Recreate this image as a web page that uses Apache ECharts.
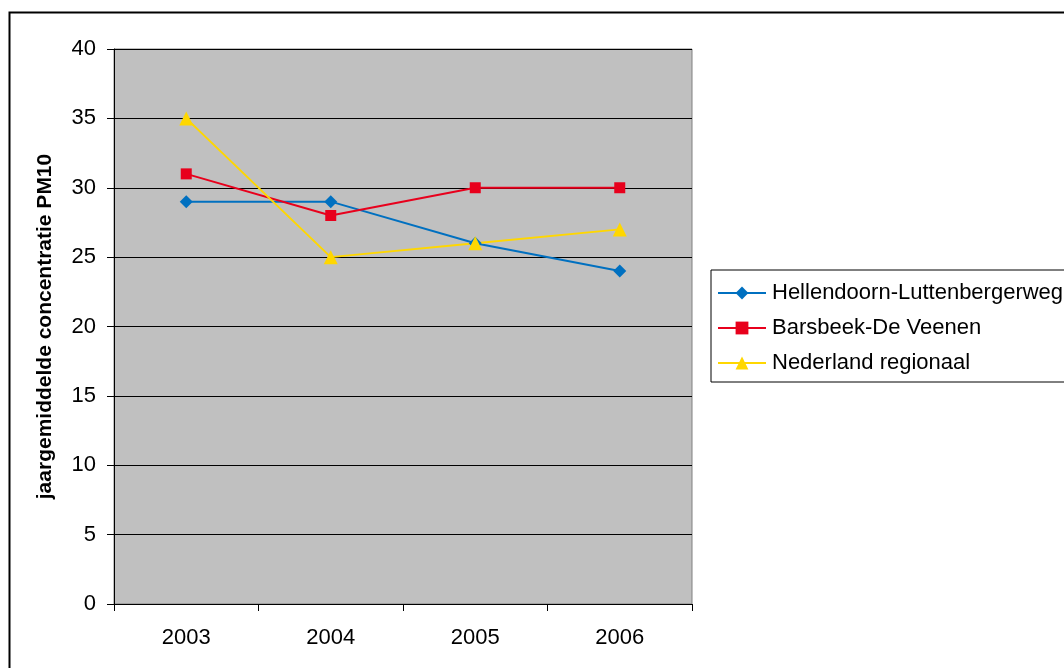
<!DOCTYPE html>
<html>
<head>
<meta charset="utf-8">
<script src="https://cdn.jsdelivr.net/npm/echarts@6/dist/echarts.min.js"></script>
<style>
  html, body { margin: 0; padding: 0; background: #ffffff; }
  #chart { width: 1064px; height: 668px; }
</style>
</head>
<body>
<div id="chart"></div>
<script>
// Jaargemiddelde PM10-concentratie per meetpunt
const years = ['2003', '2004', '2005', '2006'];
const hellendoorn = [29, 29, 26, 24];
const barsbeek = [31, 28, 30, 30];
const nederland = [35, 25, 26, 27];
const yTicks = { min: 0, max: 40, interval: 5 };

const font = 'Liberation Sans, Arial, sans-serif';

const chart = echarts.init(document.getElementById('chart'));

function lineSeries(name, data, color, symbol, size) {
  return {
    name: name,
    type: 'line',
    data: data,
    symbol: symbol,
    symbolSize: size,
    lineStyle: { color: color, width: 2 },
    itemStyle: { color: color },
    emphasis: { disabled: true },
    animation: false
  };
}

chart.setOption({
  animation: false,
  backgroundColor: '#ffffff',
  graphic: [{
    type: 'rect',
    shape: { x: 9.5, y: 12.5, width: 1100, height: 700 },
    style: { fill: 'none', stroke: '#000000', lineWidth: 2 },
    silent: true
  }],
  grid: {
    left: 114, top: 49, width: 578, height: 555,
    show: true,
    backgroundColor: '#C0C0C0',
    borderColor: '#808080',
    borderWidth: 1
  },
  legend: {
    left: 711, top: 270,
    orient: 'vertical',
    itemWidth: 48,
    itemHeight: 16,
    itemGap: 13,
    padding: [12, 200, 8, 6],
    borderColor: '#000000',
    borderWidth: 1,
    backgroundColor: '#ffffff',
    textStyle: { fontFamily: font, fontSize: 22, color: '#000000', lineHeight: 20, padding: [0, 0, 0, 1] },
    data: ['Hellendoorn-Luttenbergerweg', 'Barsbeek-De Veenen', 'Nederland regionaal']
  },
  xAxis: {
    type: 'category',
    data: years,
    boundaryGap: true,
    axisLine: { lineStyle: { color: '#000000', width: 1 } },
    axisTick: { show: true, length: 7, alignWithLabel: false, lineStyle: { color: '#000000' } },
    axisLabel: { fontFamily: font, fontSize: 22, color: '#000000', margin: 23 },
    splitLine: { show: false }
  },
  yAxis: {
    type: 'value',
    min: yTicks.min, max: yTicks.max, interval: yTicks.interval,
    name: 'jaargemiddelde concentratie PM10',
    nameLocation: 'middle',
    nameRotate: 90,
    nameGap: 58,
    nameTextStyle: { fontFamily: font, fontSize: 21, fontWeight: 'bold', color: '#000000' },
    axisLine: { show: true, lineStyle: { color: '#000000', width: 1 } },
    axisTick: { show: true, length: 7, lineStyle: { color: '#000000' } },
    axisLabel: { fontFamily: font, fontSize: 22, color: '#000000', margin: 18 },
    splitLine: { show: true, lineStyle: { color: '#000000', width: 1 } }
  },
  series: [
    lineSeries('Hellendoorn-Luttenbergerweg', hellendoorn, '#0070C0', 'diamond', 13),
    lineSeries('Barsbeek-De Veenen', barsbeek, '#E8001C', 'rect', 11),
    lineSeries('Nederland regionaal', nederland, '#FFD700', 'triangle', 14)
  ]
});
</script>
</body>
</html>
